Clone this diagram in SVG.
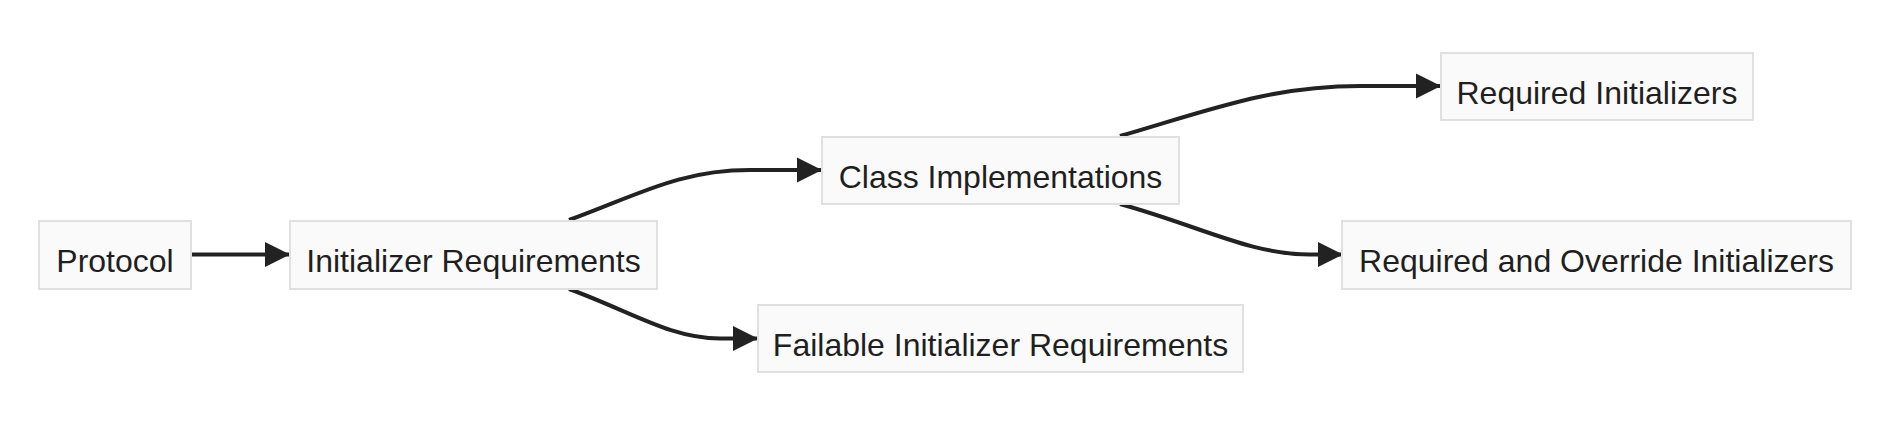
<svg xmlns="http://www.w3.org/2000/svg" width="1904" height="448" viewBox="0 0 1904 448">
<style>
.node rect{fill:#fafafa;stroke:#e0e0e0;stroke-width:2}
.node text{font-family:"Liberation Sans",Arial,sans-serif;font-size:32px;fill:#1f1f1f;text-anchor:middle}
.edge{fill:none;stroke:#222;stroke-width:4;marker-end:url(#arrow)}
</style>
<defs>
<marker id="arrow" markerUnits="userSpaceOnUse" markerWidth="26" markerHeight="26" refX="24" refY="13" orient="auto">
<path d="M0,0.5 L25,13 L0,25.5 z" fill="#222"/>
</marker>
</defs>
<rect width="1904" height="448" fill="#ffffff"/>
<g id="connectors">
<path class="edge" d="M191,254.5 L289,254.5"/>
<path class="edge" d="M569,220 C640,194 680,170 750,170 L821,170"/>
<path class="edge" d="M569,289 C630,311 670,338.5 720,338.5 L757,338.5"/>
<path class="edge" d="M1120,136 C1210,110 1270,86 1360,86 L1440,86"/>
<path class="edge" d="M1120,204 C1200,226 1250,254.5 1310,254.5 L1342,254.5"/>
</g>
<g id="protocol" class="node"><rect x="39" y="221" width="152" height="68"/><text x="115" y="272">Protocol</text></g>
<g id="initializer-requirements" class="node"><rect x="290" y="221" width="367" height="68"/><text x="473.5" y="272">Initializer Requirements</text></g>
<g id="class-implementations" class="node"><rect x="822" y="137" width="357" height="67"/><text x="1000.5" y="187.5">Class Implementations</text></g>
<g id="failable-initializer-requirements" class="node"><rect x="758" y="305" width="485" height="67"/><text x="1000.5" y="356">Failable Initializer Requirements</text></g>
<g id="required-initializers" class="node"><rect x="1441" y="53" width="312" height="67"/><text x="1597" y="103.5">Required Initializers</text></g>
<g id="required-and-override-initializers" class="node"><rect x="1342" y="221" width="509" height="68"/><text x="1596.5" y="272">Required and Override Initializers</text></g>
</svg>
